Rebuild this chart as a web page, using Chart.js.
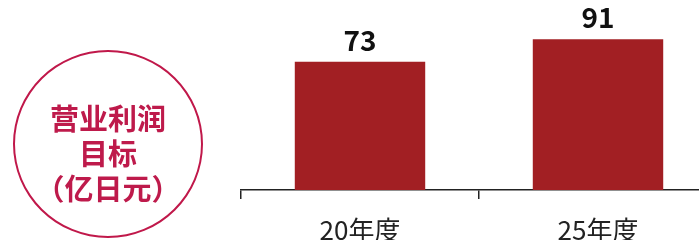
<!DOCTYPE html>
<html>
<head>
<meta charset="utf-8">
<script src="https://cdn.jsdelivr.net/npm/chart.js@4.4.1/dist/chart.umd.min.js"></script>
<style>
  html, body { margin: 0; padding: 0; background: #fff; overflow: hidden; width: 699px; height: 240px; }
  #wrap { position: absolute; left: 0; top: 0; width: 720px; height: 240px; }
  #badge {
    position: absolute; left: 13px; top: 50px; width: 186px; height: 184px;
    border: 2px solid #c0184a; border-radius: 50%;
    pointer-events: none;
  }
  #badgeText {
    position: absolute; left: 0; width: 100%; top: 48px;
    color: #be1a4b; font-family: "Noto Sans CJK SC", "Noto Sans CJK JP", sans-serif;
    font-weight: bold; font-size: 29px; line-height: 35px; text-align: center;
  }
  #badgeText div { white-space: nowrap; }
</style>
</head>
<body>
<div id="wrap"><canvas id="c"></canvas></div>
<div id="badge"><div id="badgeText"><div>营业利润</div><div>目标</div><div>（亿日元）</div></div></div>
<script>
const categories = ["20年度", "25年度"];
const profitTargets = [73, 91];
const valueLabels = ["73", "91"];

const barColor = "#a21f23";

const valueLabelPlugin = {
  id: "valueLabels",
  afterDatasetsDraw(chart) {
    const ctx = chart.ctx;
    const meta = chart.getDatasetMeta(0);
    ctx.save();
    ctx.font = 'bold 28px "Noto Sans CJK JP", "Noto Sans", sans-serif';
    ctx.fillStyle = "#111";
    ctx.textAlign = "center";
    ctx.textBaseline = "alphabetic";
    meta.data.forEach((bar, i) => {
      ctx.fillText(valueLabels[i], bar.x, bar.y - 11);
    });
    ctx.restore();
  }
};

new Chart(document.getElementById("c"), {
  type: "bar",
  data: {
    labels: categories,
    datasets: [{
      data: profitTargets,
      backgroundColor: barColor,
      borderWidth: 0,
      base: -28.5,
      categoryPercentage: 1,
      barPercentage: 0.548
    }]
  },
  options: {
    responsive: true,
    maintainAspectRatio: false,
    animation: false,
    devicePixelRatio: 1,
    layout: { padding: { left: 241, right: 3, top: 0, bottom: 0 } },
    plugins: { legend: { display: false }, tooltip: { enabled: false } },
    scales: {
      x: {
        offset: true,
        grid: { display: true, drawOnChartArea: false, offset: true, tickLength: 9, color: "#222", lineWidth: 1.5 },
        border: { display: true, color: "#222", width: 1.5 },
        ticks: {
          color: "#222",
          padding: 16,
          font: { family: '"Noto Sans CJK JP", "Noto Sans", sans-serif', size: 26 }
        },
        afterFit(scale) { scale.height = 50; }
      },
      y: {
        display: false,
        min: -28.5,
        max: 122
      }
    }
  },
  plugins: [valueLabelPlugin]
});
</script>
</body>
</html>
